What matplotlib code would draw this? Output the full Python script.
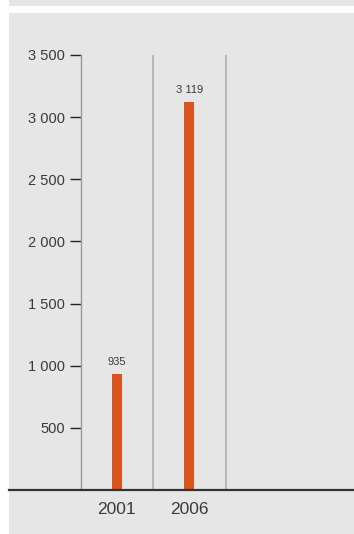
import matplotlib.pyplot as plt
from matplotlib.patches import Rectangle

# data
years = ['2001', '2006']
values = [935, 3119]
value_labels = ['935', '3 119']
yticks = [500, 1000, 1500, 2000, 2500, 3000, 3500]
ytick_labels = ['500', '1 000', '1 500', '2 000', '2 500', '3 000', '3 500']

W, H = 354, 534
bg = '#e6e6e6'
bar_color = '#d9531e'
text_color = '#3a3a3a'

plt.rcParams['font.family'] = ['Liberation Sans', 'DejaVu Sans']

fig = plt.figure(figsize=(W / 100, H / 100), dpi=100, facecolor='white')

# gray panels behind the chart
fig.add_artist(Rectangle((9 / W, 1 - 6 / H), 1, 6 / H, transform=fig.transFigure,
                         facecolor=bg, edgecolor='none', zorder=-5))
fig.add_artist(Rectangle((9 / W, 0), 1, 1 - 13 / H, transform=fig.transFigure,
                         facecolor=bg, edgecolor='none', zorder=-5))

# axes: x from 80.5px to 354px, y from 0 (490px) to 3500 (55px)
left, right, top, bottom = 80.5, 354, 55, 490
ax = fig.add_axes([left / W, 1 - bottom / H, (right - left) / W, (bottom - top) / H])
ax.set_facecolor('none')
ax.set_zorder(2)

cat_w = 72.5
x = list(range(len(years)))
ax.bar(x, values, width=10 / cat_w, color=bar_color, zorder=3)

for xi, v, lab in zip(x, values, value_labels):
    ax.annotate(lab, (xi, v), xytext=(0, 5), textcoords='offset points',
                ha='center', va='bottom', fontsize=8, color=text_color)

ax.set_xlim(-0.5, -0.5 + (right - left) / cat_w)
ax.set_ylim(0, 3500)

# separators between categories
ax.vlines([0.5, 1.5], 0, 3500, color='#b4b4b4', lw=1.3, zorder=2)

for s in ['top', 'right', 'bottom']:
    ax.spines[s].set_visible(False)
ax.spines['left'].set_color('#999999')
ax.spines['left'].set_linewidth(1.0)

ax.set_yticks(yticks)
ax.set_yticklabels(ytick_labels)
ax.tick_params(axis='y', length=8, width=1, color='#222222', pad=3,
               labelsize=10.5, labelcolor=text_color)
ax.set_xticks(x)
ax.set_xticklabels(years)
ax.tick_params(axis='x', length=0, pad=9, labelsize=12.5, labelcolor=text_color)

# baseline running to the left edge of the panel
ax.axhline(0, xmin=-(left - 9) / (right - left), xmax=1, color='#333333',
           lw=1.6, clip_on=False, zorder=4)

fig.savefig('out.png', dpi=100, facecolor='white')
